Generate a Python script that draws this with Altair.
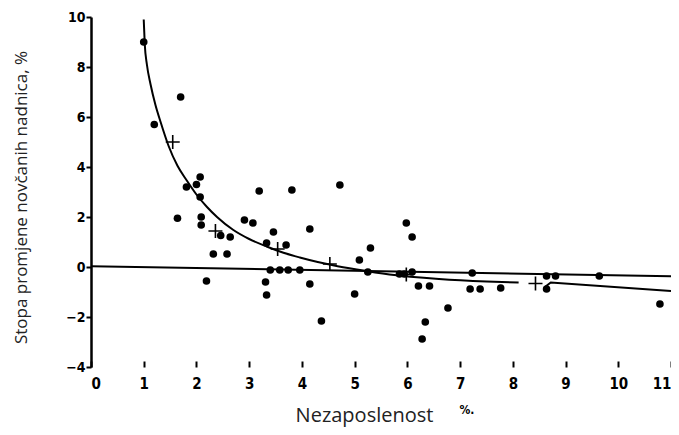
import altair as alt
import pandas as pd

# scatter points (unemployment %, wage change %)
pt_x = [1.0, 1.2, 1.7, 1.81, 2.07, 2.0, 2.07, 3.19, 3.81, 4.72,
        1.64, 2.09, 2.09, 2.46, 2.64, 2.32, 2.58, 2.19, 2.91, 3.07,
        3.33, 3.46, 3.70, 3.40, 3.58, 3.74, 3.96, 3.31, 3.33, 4.15,
        4.15, 4.37, 5.0, 5.09, 5.3, 5.25, 5.98, 6.09, 5.85, 5.94,
        6.09, 6.21, 6.42, 6.34, 6.28, 6.77, 7.23, 7.19, 7.38, 7.77,
        8.64, 8.81, 8.64, 9.64, 10.79]
pt_y = [9.0, 5.7, 6.8, 3.2, 3.6, 3.3, 2.8, 3.04, 3.08, 3.28,
        1.95, 2.0, 1.68, 1.26, 1.2, 0.52, 0.52, -0.56, 1.88, 1.76,
        0.96, 1.4, 0.88, -0.12, -0.12, -0.12, -0.12, -0.6, -1.12, 1.52,
        -0.68, -2.16, -1.08, 0.28, 0.76, -0.2, 1.76, 1.2, -0.28, -0.28,
        -0.2, -0.76, -0.76, -2.2, -2.88, -1.64, -0.24, -0.88, -0.88, -0.84,
        -0.36, -0.36, -0.88, -0.36, -1.48]

# cross markers (group averages)
cross_x = [1.55, 2.36, 3.54, 4.53, 5.98, 8.43]
cross_y = [5.0, 1.44, 0.72, 0.12, -0.3, -0.66]

# fitted curve
curve_x = [1.0, 1.02, 1.06, 1.13, 1.22, 1.32, 1.47, 1.64, 1.82, 2.0, 2.2, 2.39,
           2.7, 3.0, 3.33, 3.65, 3.96, 4.3, 4.59, 5.04, 5.66, 6.6, 7.5, 8.11]
curve_y = [9.9, 8.9, 8.1, 7.3, 6.5, 5.8, 4.85, 4.05, 3.45, 2.9, 2.4, 2.0,
           1.48, 1.12, 0.82, 0.57, 0.38, 0.2, 0.07, -0.1, -0.3, -0.48, -0.58, -0.62]

# nearly horizontal line
hline_x = [0, 11]
hline_y = [0.03, -0.37]

# right-hand segment
seg_x = [8.62, 8.72, 11.0]
seg_y = [-0.78, -0.62, -0.96]

x_ticks = list(range(0, 12))
y_ticks = [-4, -2, 0, 2, 4, 6, 8, 10]

pts = pd.DataFrame({"x": pt_x, "y": pt_y})
crosses = pd.DataFrame({"x": cross_x, "y": cross_y})
curve = pd.DataFrame({"x": curve_x, "y": curve_y})
hline = pd.DataFrame({"x": hline_x, "y": hline_y})
seg = pd.DataFrame({"x": seg_x, "y": seg_y})

xs = alt.Scale(domain=[0, 11], nice=False, zero=False)
ys = alt.Scale(domain=[-4, 10], nice=False, zero=False)

lab_font = "DejaVu Sans Condensed"
title_font = "Open Sans"

x_axis = alt.Axis(
    title="Nezaposlenost", values=x_ticks, grid=False, domain=False,
    tickSize=6, tickWidth=2, tickColor="black", offset=-6,
    labelFont=lab_font, labelFontSize=15, labelFontWeight="bold",
    labelColor="black", labelPadding=9,
    titleFont=title_font, titleFontSize=20, titleFontWeight="normal",
    titleColor="#222", titleX=273, titleY=60, titleBaseline="alphabetic",
)
y_axis = alt.Axis(
    title="Stopa promjene novčanih nadnica, %", values=y_ticks, grid=False,
    domain=True, domainWidth=2.5, domainColor="black",
    tickSize=5, tickWidth=2, tickColor="black",
    labelFont=lab_font, labelFontSize=14, labelFontWeight="bold",
    labelColor="black", labelPadding=1,
    titleFont=title_font, titleFontSize=17, titleFontWeight="normal",
    titleColor="#222", titlePadding=35, titleY=180,
)

base_x = alt.X("x:Q", scale=xs, axis=x_axis)
base_y = alt.Y("y:Q", scale=ys, axis=y_axis)

points = alt.Chart(pts).mark_circle(size=58, color="black", opacity=1).encode(
    x=base_x, y=base_y)

cross_layer = alt.Chart(crosses).mark_point(
    shape="M-1,0L1,0M0,-1L0,1", size=196, filled=False,
    stroke="black", strokeWidth=1.6, opacity=1).encode(
    x=alt.X("x:Q", scale=xs), y=alt.Y("y:Q", scale=ys))

curve_layer = alt.Chart(curve).mark_line(
    color="black", strokeWidth=2, interpolate="monotone").encode(
    x=alt.X("x:Q", scale=xs), y=alt.Y("y:Q", scale=ys))

hline_layer = alt.Chart(hline).mark_line(color="black", strokeWidth=2).encode(
    x=alt.X("x:Q", scale=xs), y=alt.Y("y:Q", scale=ys))

seg_layer = alt.Chart(seg).mark_line(color="black", strokeWidth=2).encode(
    x=alt.X("x:Q", scale=xs), y=alt.Y("y:Q", scale=ys))

unit = alt.Chart(pd.DataFrame({"x": [7.13], "y": [-5.72], "t": ["%."]})).mark_text(
    font=lab_font, fontSize=12, fontWeight="bold", color="black",
    baseline="middle", align="center").encode(
    x=alt.X("x:Q", scale=xs), y=alt.Y("y:Q", scale=ys), text="t:N")

chart = alt.layer(hline_layer, curve_layer, seg_layer, points, cross_layer, unit).properties(
    width=580, height=350,
    autosize=alt.AutoSizeParams(type="none"),
    padding={"left": 83, "top": 9, "right": 0, "bottom": 60},
    background="white",
).configure_view(stroke=None)

chart.save("out.html", embed_options={"renderer": "svg", "actions": False})
